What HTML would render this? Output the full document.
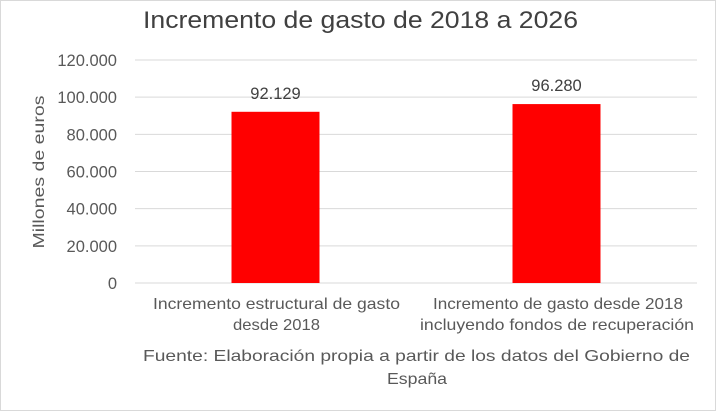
<!DOCTYPE html>
<html><head><meta charset="utf-8"><style>
body{margin:0;background:#fff}
svg{display:block;font-family:"Liberation Sans",sans-serif}
</style></head><body>
<svg id="c" width="716" height="411">
<rect x="0.5" y="0.5" width="715" height="410" fill="#fff" stroke="#d9d9d9"/>
<text x="143" y="28" font-size="24" fill="#404040" textLength="435" lengthAdjust="spacingAndGlyphs">Incremento de gasto de 2018 a 2026</text>
<text transform="translate(44,172) rotate(-90)" font-size="16" fill="#595959" text-anchor="middle" textLength="153" lengthAdjust="spacingAndGlyphs">Millones de euros</text>
<g id="grid"></g><g id="bars"></g>
<text font-size="16" fill="#595959"><tspan x="153" y="309" textLength="247" lengthAdjust="spacingAndGlyphs">Incremento estructural de gasto</tspan><tspan x="233" y="330" textLength="87" lengthAdjust="spacingAndGlyphs">desde 2018</tspan></text>
<text font-size="16" fill="#595959"><tspan x="433" y="309" textLength="250" lengthAdjust="spacingAndGlyphs">Incremento de gasto desde 2018</tspan><tspan x="420" y="330" textLength="274" lengthAdjust="spacingAndGlyphs">incluyendo fondos de recuperación</tspan></text>
<text font-size="16" fill="#595959"><tspan x="143" y="361" textLength="547" lengthAdjust="spacingAndGlyphs">Fuente: Elaboración propia a partir de los datos del Gobierno de</tspan><tspan x="387" y="384" textLength="60" lengthAdjust="spacingAndGlyphs">España</tspan></text>
</svg>
<script>
const categories=["Incremento estructural de gasto desde 2018","Incremento de gasto desde 2018 incluyendo fondos de recuperación"];
const values=[92129,96280];
const valueLabels=["92.129","96.280"];
const ticks=[0,20000,40000,60000,80000,100000,120000];
const tickLabels=["0","20.000","40.000","60.000","80.000","100.000","120.000"];
const ns="http://www.w3.org/2000/svg";
const x0=135,x1=697,y0=283,y1=60,max=120000;
const y=v=>y0-(v/max)*(y0-y1);
const bw=(x1-x0)/categories.length;
const g=document.getElementById('grid'),b=document.getElementById('bars');
function mk(t,a,p){const e=document.createElementNS(ns,t);for(const k in a)e.setAttribute(k,a[k]);p.appendChild(e);return e;}
ticks.forEach((t,i)=>{
 const l=mk('line',{x1:x0,x2:x1,y1:y(t),y2:y(t),stroke:'#d9d9d9','stroke-width':1},g);
 
 
 const tx=mk('text',{x:117,y:y(t)+6,'font-size':16.5,fill:'#595959','text-anchor':'end'},g);
 tx.textContent=tickLabels[i];
 
 
});
values.forEach((v,i)=>{
 const cx=x0+bw*(i+0.5),w=88;
 const r=mk('rect',{x:cx-w/2,y:y(v),width:w,height:y0-y(v),fill:'#ff0000'},b);
 
 
 const t=mk('text',{x:cx,y:y(v)-13,'font-size':16.5,fill:'#404040','text-anchor':'middle'},b);
 t.textContent=valueLabels[i];
 
 
});
</script>
</body></html>
